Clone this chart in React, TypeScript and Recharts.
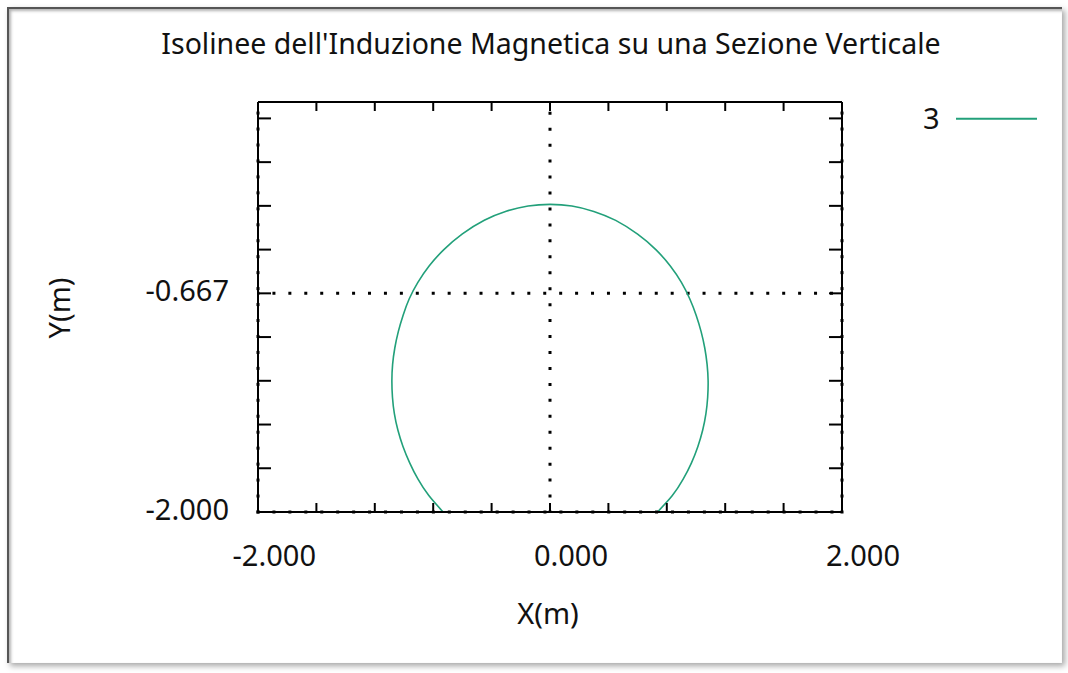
import React from "react";
import { LineChart, Line, XAxis, YAxis, ReferenceLine, Legend } from "recharts";

// isoline "3", bottom-left -> top -> bottom-right
const curveX = [
  -0.732, -0.83, -0.904, -0.961, -1.007, -1.042, -1.066, -1.079, -1.083, -1.078, -1.063,
  -1.039, -1.006, -0.964, -0.905, -0.828, -0.727, -0.6, -0.45, -0.3, -0.15, 0.0,
  0.15, 0.3, 0.45, 0.6, 0.725, 0.824, 0.9, 0.957, 1.001, 1.035, 1.06, 1.076, 1.083,
  1.08, 1.068, 1.046, 1.013, 0.969, 0.912, 0.838, 0.736,
];
const curveY = [
  -2.0, -1.9, -1.8, -1.7, -1.6, -1.5, -1.4, -1.3, -1.2, -1.1, -1.0,
  -0.9, -0.8, -0.7, -0.6, -0.5, -0.4, -0.304, -0.221, -0.166, -0.134, -0.124,
  -0.134, -0.167, -0.222, -0.306, -0.4, -0.5, -0.6, -0.7, -0.8, -0.9, -1.0, -1.1, -1.2,
  -1.3, -1.4, -1.5, -1.6, -1.7, -1.8, -1.9, -2.0,
];
const seriesName = "3";

const xDomain = [-2, 2];
const yDomain = [-2, 0.5];
const xMajorTicks = [-2, -1.6, -1.2, -0.8, -0.4, 0, 0.4, 0.8, 1.2, 1.6, 2];
const xLabelTicks = [-2, 0, 2];
const xLabels = ["-2.000", "0.000", "2.000"];
const yMajorTicks = [-2, -1.7333, -1.4667, -1.2, -0.9333, -0.6667, -0.4, -0.1333, 0.1333, 0.4];
const yLabelTicks = [-2, -0.6667];
const yLabels = ["-2.000", "-0.667"];

// small dots along the axes (fixed spacing in the original)
const X_MINOR_STEP = 0.1092;
const Y_MINOR_STEP = 0.0973;
const xMinorTicks = Array.from({ length: 37 }, (_, i) => -2 + i * X_MINOR_STEP);
const yMinorTicks = Array.from({ length: 26 }, (_, i) => -2 + i * Y_MINOR_STEP);

const data = curveX.map((x, i) => ({ x, y: curveY[i] }));

const W = 1068;
const H = 673;
const FONT = "'Noto Sans', sans-serif";
const FS = 29;
const INK = "#111";
const GREEN = "#22a07a";

const has = (list: number[], v: number) => list.some((t) => Math.abs(t - v) < 1e-6);
const merge = (a: number[], b: number[]) =>
  [...a, ...b.filter((v) => !has(a, v))].sort((p, q) => p - q);

function findLabel(v: number, values: number[], labels: string[]) {
  const i = values.findIndex((t) => Math.abs(t - v) < 1e-3);
  return i >= 0 ? labels[i] : null;
}

const Dot = ({ x, y }: { x: number; y: number }) => (
  <rect x={x - 1.5} y={y - 1.5} width={3} height={3} fill="#000" />
);

const BottomTick = ({ x, y, payload }: any) => {
  const v = payload.value;
  const label = findLabel(v, xLabelTicks, xLabels);
  return (
    <g>
      {has(xMinorTicks, v) && <Dot x={x} y={y} />}
      {has(xMajorTicks, v) && <line x1={x} y1={y} x2={x} y2={y - 9} stroke="#000" strokeWidth={2} />}
      {label && (
        <text x={x + 58} y={y + 54} textAnchor="end" fontSize={FS} fontFamily={FONT} fill={INK}>
          {label}
        </text>
      )}
    </g>
  );
};

const TopTick = ({ x, y }: any) => (
  <line x1={x} y1={y} x2={x} y2={y + 9} stroke="#000" strokeWidth={2} />
);

const LeftTick = ({ x, y, payload }: any) => {
  const v = payload.value;
  const label = findLabel(v, yLabelTicks, yLabels);
  return (
    <g>
      {has(yMinorTicks, v) && <Dot x={x} y={y} />}
      {has(yMajorTicks, v) && <line x1={x} y1={y} x2={x + 13} y2={y} stroke="#000" strokeWidth={2} />}
      {label && (
        <text x={x - 29} y={y + 8} textAnchor="end" fontSize={FS} fontFamily={FONT} fill={INK}>
          {label}
        </text>
      )}
    </g>
  );
};

const RightTick = ({ x, y, payload }: any) => {
  const v = payload.value;
  return (
    <g>
      {has(yMinorTicks, v) && <Dot x={x} y={y} />}
      {has(yMajorTicks, v) && <line x1={x} y1={y} x2={x - 13} y2={y} stroke="#000" strokeWidth={2} />}
    </g>
  );
};

const LegendContent = ({ payload }: any) => (
  <svg width={150} height={50} style={{ overflow: "visible" }}>
    {(payload || []).map((p: any) => (
      <g key={p.value}>
        <text x={39.5} y={39} textAnchor="end" fontSize={FS} fontFamily={FONT} fill={INK}>
          {p.value}
        </text>
        <line x1={56} y1={28.7} x2={137} y2={28.7} stroke={p.color} strokeWidth={2} />
      </g>
    ))}
  </svg>
);

const axisLine = { stroke: "#000", strokeWidth: 2 };
const axisCommon = {
  type: "number" as const,
  interval: 0 as const,
  tickSize: 0,
  tickMargin: 0,
  tickLine: false,
  axisLine,
  allowDataOverflow: true,
};

export default function App() {
  return (
    <div style={{ position: "absolute", left: 0, top: 0, width: W, height: H, background: "#fff" }}>
      <div
        style={{
          position: "absolute",
          left: 7,
          top: 7,
          width: 1055,
          height: 656,
          boxSizing: "border-box",
          borderTop: "2px solid #555",
          borderLeft: "2px solid #555",
          boxShadow: "inset 2px 2px 3px rgba(0,0,0,0.3), 3px 3px 6px rgba(0,0,0,0.35)",
          background: "#fff",
        }}
      />
      <div style={{ position: "absolute", left: 0, top: 0 }}>
        <LineChart width={W} height={H} data={data} margin={{ top: 101, left: 257, right: 225, bottom: 160 }}>
          <XAxis
            {...axisCommon}
            xAxisId="x"
            dataKey="x"
            domain={xDomain}
            ticks={merge(xMajorTicks, xMinorTicks)}
            height={1}
            tick={<BottomTick />}
          />
          <XAxis
            {...axisCommon}
            xAxisId="xt"
            dataKey="x"
            orientation="top"
            domain={xDomain}
            ticks={xMajorTicks}
            height={1}
            tick={<TopTick />}
          />
          <YAxis
            {...axisCommon}
            yAxisId="y"
            domain={yDomain}
            ticks={merge(yMajorTicks, yMinorTicks)}
            width={1}
            tick={<LeftTick />}
          />
          <YAxis
            {...axisCommon}
            yAxisId="yr"
            orientation="right"
            domain={yDomain}
            ticks={merge(yMajorTicks, yMinorTicks)}
            width={1}
            tick={<RightTick />}
          />
          {xLabelTicks
            .filter((v) => v > xDomain[0] && v < xDomain[1])
            .map((v) => (
              <ReferenceLine
                key={`gx${v}`}
                xAxisId="x"
                yAxisId="y"
                x={v}
                stroke="#000"
                strokeWidth={3}
                strokeDasharray="3 12.95"
                strokeDashoffset={1.5}
              />
            ))}
          {yLabelTicks
            .filter((v) => v > yDomain[0] && v < yDomain[1])
            .map((v) => (
              <ReferenceLine
                key={`gy${v}`}
                xAxisId="x"
                yAxisId="y"
                y={v}
                stroke="#000"
                strokeWidth={3}
                strokeDasharray="3 12.93"
                strokeDashoffset={1.5}
              />
            ))}
          <Line
            xAxisId="x"
            yAxisId="y"
            dataKey="y"
            name={seriesName}
            type="natural"
            stroke={GREEN}
            strokeWidth={1.6}
            dot={false}
            activeDot={false}
            isAnimationActive={false}
          />
          <Legend
            layout="vertical"
            align="center"
            verticalAlign="middle"
            wrapperStyle={{ left: 900, top: 90, width: 150, height: 50 }}
            content={<LegendContent />}
          />
        </LineChart>
      </div>
      <svg width={W} height={H} style={{ position: "absolute", left: 0, top: 0, pointerEvents: "none" }}>
        <text x={551} y={54} textAnchor="middle" fontSize={28.5} fontFamily={FONT} fill={INK}>
          Isolinee dell'Induzione Magnetica su una Sezione Verticale
        </text>
        <text x={548} y={624} textAnchor="middle" fontSize={FS} fontFamily={FONT} fill={INK}>
          X(m)
        </text>
        <text
          transform="translate(70,308) rotate(-90)"
          textAnchor="middle"
          fontSize={FS}
          fontFamily={FONT}
          fill={INK}
        >
          Y(m)
        </text>
      </svg>
    </div>
  );
}
